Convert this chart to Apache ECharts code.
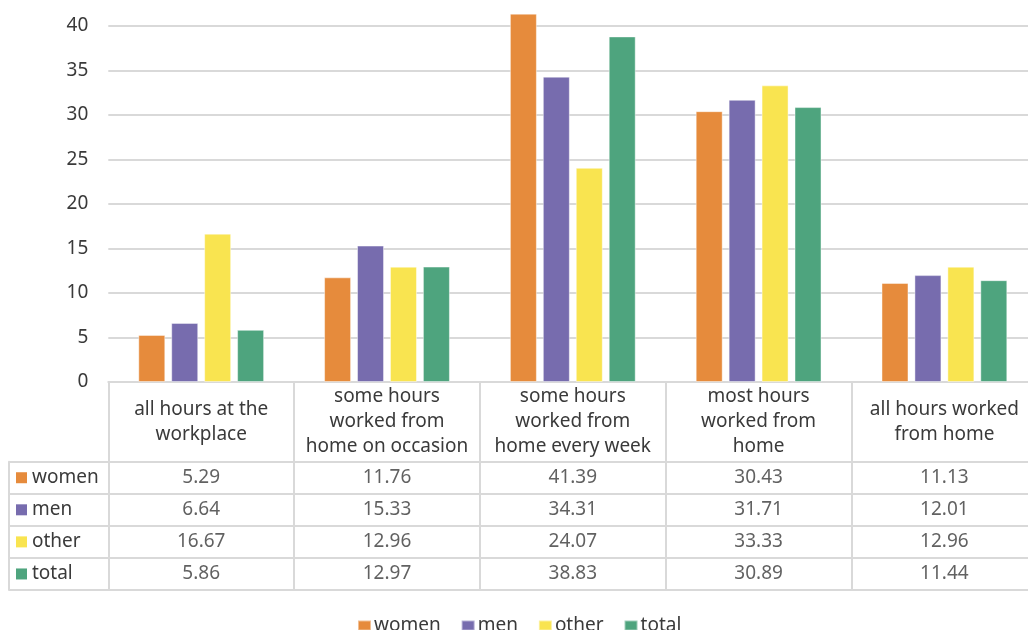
<!DOCTYPE html>
<html>
<head>
<meta charset="utf-8">
<script src="https://cdn.jsdelivr.net/npm/echarts@6/dist/echarts.min.js"></script>
<style>html,body{margin:0;padding:0;background:#fff}#c{width:1028px;height:630px}</style>
</head>
<body>
<div id="c"></div>
<script>
const categories = [
  'all hours at the\nworkplace',
  'some hours\nworked from\nhome on occasion',
  'some hours\nworked from\nhome every week',
  'most hours\nworked from\nhome',
  'all hours worked\nfrom home'
];
const seriesNames = ['women', 'men', 'other', 'total'];
const women = [5.29, 11.76, 41.39, 30.43, 11.13];
const men = [6.64, 15.33, 34.31, 31.71, 12.01];
const other = [16.67, 12.96, 24.07, 33.33, 12.96];
const total = [5.86, 12.97, 38.83, 30.89, 11.44];
const yTicks = [0, 5, 10, 15, 20, 25, 30, 35, 40];

const colors = ['#E68B3C', '#776CAE', '#F9E450', '#4EA47E'];
const values = [women, men, other, total];
const FONT = '"Noto Sans", "DejaVu Sans", sans-serif';
const TXT = '#3a3a3a';
const LINE = '#D9D9D9';

const L = 108.3, W = 929, ZERO = 382, UNIT = 8.9;
const yMax = 45;
const topPx = ZERO - yMax * UNIT;

const chart = echarts.init(document.getElementById('c'));

const rich = {};
colors.forEach((c, i) => { rich['s' + i] = { width: 11, height: 11, backgroundColor: c }; });
rich.t = { fontSize: 19, fontFamily: FONT, color: TXT, padding: [0, 0, 0, 5] };

const cellData = [];
values.forEach((arr, r) => arr.forEach((v, c) => cellData.push([c, r, v])));

const option = {
  animation: false,
  backgroundColor: '#fff',
  textStyle: { fontFamily: FONT },
  legend: {
    data: seriesNames,
    left: 352, top: 611,
    icon: 'rect', itemWidth: 13, itemHeight: 10, itemGap: 20,
    textStyle: { fontSize: 19, color: TXT, fontFamily: FONT, padding: [0, 0, 0, -2] }
  },
  grid: [
    { left: L, width: W, top: topPx, height: yMax * UNIT, outerBoundsMode: 'none' },
    { left: L, width: W, top: ZERO, height: 208, outerBoundsMode: 'none' },
    { left: 9, width: W + L - 9, top: 461.7, height: 128.3, outerBoundsMode: 'none' },
    { left: L, width: W, top: 461.7, height: 128.3, outerBoundsMode: 'none' }
  ],
  xAxis: [
    {
      gridIndex: 0, type: 'category', data: categories,
      axisLine: { show: true, lineStyle: { color: LINE, width: 2 } },
      axisTick: { show: false },
      axisLabel: {
        interval: 0, margin: 40, verticalAlign: 'middle', align: 'center',
        fontSize: 19, lineHeight: 25, color: TXT, fontFamily: FONT
      }
    },
    {
      gridIndex: 1, type: 'category', data: categories,
      axisLine: { show: false }, axisTick: { show: false }, axisLabel: { show: false },
      splitLine: { show: true, interval: 0, lineStyle: { color: LINE, width: 2 } }
    },
    { gridIndex: 2, type: 'value', min: 0, max: 1, show: false },
    { gridIndex: 3, type: 'category', data: categories, show: false }
  ],
  yAxis: [
    {
      gridIndex: 0, type: 'value', min: 0, max: yMax, interval: 5,
      axisLine: { show: false }, axisTick: { show: false },
      axisLabel: {
        margin: 20, fontSize: 19, color: TXT, fontFamily: FONT,
        formatter: v => (yTicks.indexOf(v) >= 0 ? String(v) : '')
      },
      splitLine: { lineStyle: { color: LINE, width: 2 } }
    },
    {
      gridIndex: 1, type: 'value', min: 0, max: 1,
      axisLine: { show: true, lineStyle: { color: LINE, width: 2 } },
      axisTick: { show: false }, axisLabel: { show: false }, splitLine: { show: false }
    },
    {
      gridIndex: 2, type: 'category', data: seriesNames, inverse: true,
      axisLine: { show: true, lineStyle: { color: LINE, width: 2 } },
      axisTick: { show: false },
      axisLabel: {
        inside: true, margin: 7, align: 'left',
        formatter: (v, i) => '{s' + i + '|}{t|' + v + '}',
        rich: rich
      },
      splitLine: { show: true, interval: 0, lineStyle: { color: LINE, width: 2 } }
    },
    { gridIndex: 3, type: 'category', data: seriesNames, inverse: true, show: false }
  ],
  series: seriesNames.map((name, i) => ({
    name: name, type: 'bar', xAxisIndex: 0, yAxisIndex: 0,
    data: values[i], barWidth: 27, barGap: '22%',
    itemStyle: { color: colors[i], borderColor: 'rgba(255,255,255,0.45)', borderWidth: 1 }
  })).concat([{
    type: 'scatter', xAxisIndex: 3, yAxisIndex: 3,
    data: cellData, symbolSize: 2, itemStyle: { color: 'rgba(0,0,0,0)' }, silent: true,
    label: {
      show: true, position: 'inside', fontSize: 19, color: TXT, fontFamily: FONT,
      formatter: p => p.value[2].toFixed(2)
    }
  }])
};
chart.setOption(option);
</script>
</body>
</html>
